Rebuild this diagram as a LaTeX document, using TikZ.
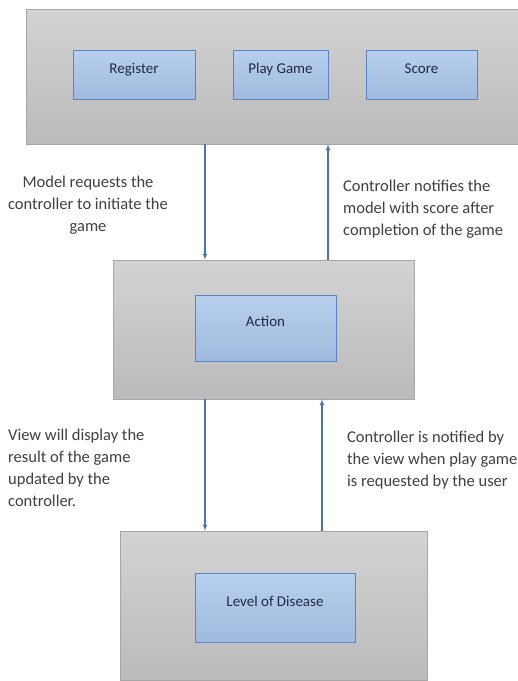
\documentclass[tikz,border=0pt]{standalone}
\usepackage{fontspec}
\setmainfont{Carlito}
\usepackage{tikz}
\usetikzlibrary{arrows,shapes}
\definecolor{boxgray}{HTML}{CBCBCB}
\definecolor{boxline}{HTML}{A6A6A6}
\definecolor{itemblue}{HTML}{A7C4EA}
\definecolor{itemline}{HTML}{5A85C4}
\definecolor{flowblue}{HTML}{4A72B8}
\definecolor{notegray}{HTML}{404040}
\definecolor{itemtext}{HTML}{1F2B44}
\tikzstyle{layer}=[draw=boxline,top color=boxgray!85!white,bottom color=boxgray!92!black,inner sep=0pt]
\tikzstyle{item}=[draw=itemline,thick,top color=itemblue!80!white,bottom color=itemblue!95!black,inner sep=0pt,text=itemtext,text height=10pt,text depth=13pt,font=\fontsize{15}{17}\selectfont]
\tikzstyle{note}=[text=notegray,font=\fontsize{16.5}{22}\selectfont,inner sep=0pt]
\tikzstyle{flow} = [draw=flowblue,line width=1.1pt,->,>=latex']

\begin{document}
\begin{tikzpicture}[x=1pt,y=-1pt]
        \useasboundingbox (0,0) rectangle (518,681);
        \fill[white] (0,0) rectangle (518,681);
        %\tikzset{flow/.style = {->,>=stealth}}
        \node[layer,minimum width=492pt,minimum height=135pt] (model) at (272,76.5) {};
        \node[layer,minimum width=301pt,minimum height=139pt] (control) at (263.5,329.5) {};
        \node[layer,minimum width=307pt,minimum height=149pt] (view) at (273.5,605.5) {};
        \node[item,minimum width=122pt,minimum height=49pt] (register) at (134,74.5) {Register};
        \node[item,minimum width=95pt,minimum height=49pt] (play) at (280.5,74.5) {Play Game};
        \node[item,minimum width=111pt,minimum height=49pt] (score) at (421.5,74.5) {Score};
        \node[item,minimum width=141pt,minimum height=66pt] (action) at (265.5,328) {Action};
        \node[item,minimum width=160pt,minimum height=69pt] (level) at (275,607.5) {Level of Disease};
        \node[note,align=center] (req) at (88,205) {Model requests the\\controller to initiate the\\game};
        \node[note,align=left,anchor=west] (notify) at (343,209) {Controller notifies the\\model with score after\\completion of the game};
        \node[note,align=left,anchor=west] (display) at (8,468) {View will display the\\result of the game\\updated by the\\controller.};
        \node[note,align=left,anchor=west] (notified) at (347,460) {Controller is notified by\\the view when play game\\is requested by the user};
        \draw[flow] (model.south -| 205,0) to (control.north -| 205,0);
        \draw[flow] (control.north -| 328,0) to (model.south -| 328,0);
        \draw[flow] (control.south -| 205,0) to (view.north -| 205,0);
        \draw[flow] (view.north -| 322,0) to (control.south -| 322,0);
      \end{tikzpicture}
\end{document}
